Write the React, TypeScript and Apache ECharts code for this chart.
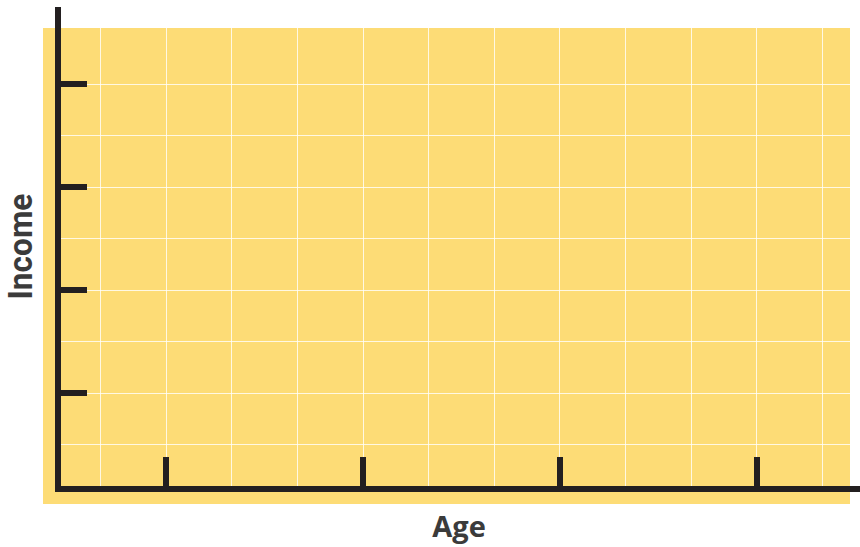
import React, { useEffect, useRef } from "react";
import * as echarts from "echarts";

// ---- chart content (an empty Age / Income template) ----
const xAxisTitle = "Age";
const yAxisTitle = "Income";
// grid-cell units: vertical grid lines sit at 0..11, horizontal ones at 0..7
const xGridLineCount = [0, 1, 2, 3, 4, 5, 6, 7, 8, 9, 10, 11];
const yGridLineCount = [0, 1, 2, 3, 4, 5, 6, 7];
const xTickValues = [1, 4, 7, 10];
const yTickValues = [0, 2, 4, 6];

// ---- layout / style ----
const W = 860;
const H = 547;
const AXIS_X = 58; // pixel of the vertical axis line
const AXIS_Y = 489; // pixel of the horizontal axis line
const FIRST_V = 100.5; // first vertical grid line
const CELL_W = 65.59;
const FIRST_H = 84; // first horizontal grid line
const CELL_H = 51.53;
const AXIS_TOP = 10;
const INK = "#231F20";
const YELLOW = "#FDDC76";
const TEXT = "#3B3B3B";
const FONT = "'Open Sans', 'Noto Sans', sans-serif";

export default function App() {
  const ref = useRef<HTMLDivElement>(null);

  useEffect(() => {
    if (!ref.current) return;
    const chart = echarts.init(ref.current, undefined, { renderer: "svg", width: W, height: H });

    const xMinMain = (AXIS_X - FIRST_V) / CELL_W;
    const xMaxMain = (W - FIRST_V) / CELL_W;
    const yMinMain = (AXIS_TOP - FIRST_H) / CELL_H;
    const yMaxMain = (AXIS_Y - FIRST_H) / CELL_H;
    const bottom = H - AXIS_Y;

    const gridLine = { show: true, showMinLine: true, showMaxLine: false, lineStyle: { color: "rgba(255,255,255,0.8)", width: 1 } };

    chart.setOption({
      animation: false,
      backgroundColor: "#ffffff",
      grid: [
        // 0: main axes
        { left: AXIS_X, right: 0, top: AXIS_TOP, bottom },
        // 1: vertical grid lines
        { left: FIRST_V, right: 0, top: 28, bottom },
        // 2: horizontal grid lines
        { left: AXIS_X, right: 0, top: FIRST_H, bottom },
        // 3: yellow background
        { left: 43, right: 10, top: 28, bottom: 43, show: true, backgroundColor: YELLOW, borderWidth: 0 },
      ],
      xAxis: [
        {
          type: "value",
          gridIndex: 0,
          min: xMinMain,
          max: xMaxMain,
          position: "bottom",
          axisLine: { show: true, onZero: false, lineStyle: { color: INK, width: 6, cap: "square" } },
          axisTick: { show: true, inside: true, length: 32, customValues: xTickValues, lineStyle: { color: INK, width: 6, cap: "butt" } },
          axisLabel: { show: false },
          splitLine: { show: false },
          name: xAxisTitle,
          nameLocation: "middle",
          nameGap: 22,
          nameTextStyle: { fontFamily: FONT, fontWeight: "bold", fontSize: 29, lineHeight: 29, color: TEXT },
          z: 5,
        },
        {
          type: "value",
          gridIndex: 1,
          min: xGridLineCount[0],
          max: xMaxMain,
          interval: 1,
          axisLine: { show: false },
          axisTick: { show: false },
          axisLabel: { show: false },
          splitLine: gridLine,
        },
        { type: "value", gridIndex: 2, show: false, min: 0, max: 1 },
        { type: "value", gridIndex: 3, show: false, min: 0, max: 1 },
      ],
      yAxis: [
        {
          type: "value",
          gridIndex: 0,
          inverse: true,
          min: yMinMain,
          max: yMaxMain,
          position: "left",
          axisLine: { show: true, onZero: false, lineStyle: { color: INK, width: 6, cap: "square" } },
          axisTick: { show: true, inside: true, length: 29, customValues: yTickValues, lineStyle: { color: INK, width: 6, cap: "butt" } },
          axisLabel: { show: false },
          splitLine: { show: false },
          z: 5,
        },
        { type: "value", gridIndex: 1, show: false, min: 0, max: 1 },
        {
          type: "value",
          gridIndex: 2,
          inverse: true,
          min: yGridLineCount[0],
          max: yMaxMain,
          interval: 1,
          axisLine: { show: false },
          axisTick: { show: false },
          axisLabel: { show: false },
          splitLine: gridLine,
        },
        { type: "value", gridIndex: 3, show: false, min: 0, max: 1 },
      ],
      graphic: [
        {
          type: "text",
          x: 20.6,
          y: 246.5,
          rotation: Math.PI / 2,
          scaleX: 0.93,
          z: 10,
          style: {
            text: yAxisTitle,
            fontFamily: "Roboto, 'Open Sans', sans-serif",
            fontWeight: "bold",
            fontSize: 34,
            fill: TEXT,
            align: "center",
            verticalAlign: "middle",
            textAlign: "center",
            textVerticalAlign: "middle",
          },
        },
      ],
      series: [],
    });

    return () => chart.dispose();
  }, []);

  return <div ref={ref} style={{ position: "fixed", left: 0, top: 0, width: W, height: H }} />;
}
